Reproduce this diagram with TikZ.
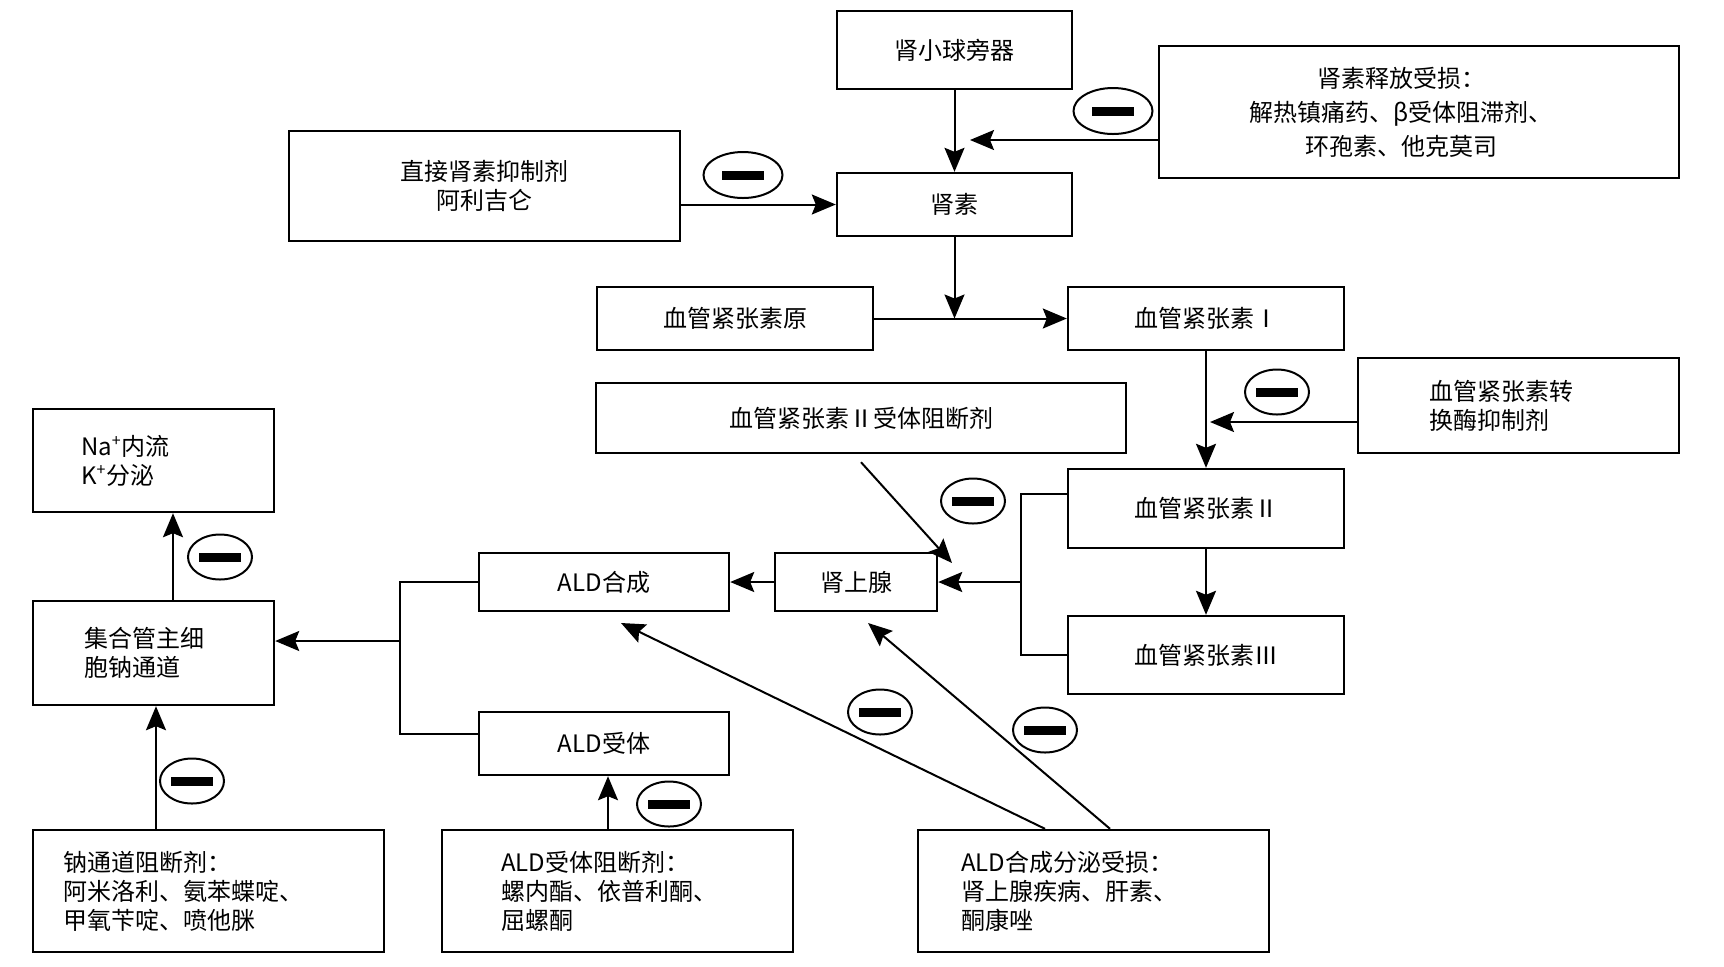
\documentclass[tikz,border=0pt]{standalone}
\usepackage{fontspec}
\setmainfont{Noto Sans CJK SC}
\usetikzlibrary{arrows.meta,shapes.geometric}
\tikzset{
  box/.style={draw, line width=1.2pt, rectangle, inner sep=0pt, align=center, font=\fontsize{12}{14.5}\selectfont},
  lbox/.style={box, align=left},
  inh/.style={ellipse, draw, line width=1pt, inner sep=0pt, minimum width=32pt, minimum height=22.5pt},
  inhw/.style={inh, minimum width=39.5pt, minimum height=23pt},
  conn/.style={line width=1pt},
  arr/.style={conn, -{Stealth[length=12pt,width=10pt,inset=2pt]}}
}
\newcommand{\minusbar}{\rule{21pt}{4.5pt}}
\newcommand{\rpad}{\hbox to 18pt{}}
\begin{document}
\begin{tikzpicture}[x=0.5pt,y=-0.5pt]
\useasboundingbox (0,0) rectangle (1724,966);

% boxes
\node[box, minimum width=117.5pt, minimum height=39pt] (jg) at (954.5,50) {肾小球旁器};
\node[box, minimum width=260pt, minimum height=66pt, font=\fontsize{12}{17}\selectfont] (rrel) at (1419,112) {肾素释放受损：\rpad\\解热镇痛药、β受体阻滞剂、\rpad\\环孢素、他克莫司\rpad};
\node[box, minimum width=195.5pt, minimum height=55pt] (dri) at (484.5,186) {直接肾素抑制剂\\阿利吉仑};
\node[box, minimum width=117.5pt, minimum height=31.5pt] (renin) at (954.5,204.5) {肾素};
\node[box, minimum width=138pt, minimum height=31.5pt] (agt) at (735,318.5) {血管紧张素原};
\node[box, minimum width=138pt, minimum height=31.5pt] (ang1) at (1206,318.5) {血管紧张素Ⅰ};
\node[lbox, text width=89.5pt, inner xsep=35.5pt, minimum height=47.5pt] (acei) at (1518.5,405.5) {血管紧张素转\\换酶抑制剂};
\node[box, minimum width=265pt, minimum height=35pt] (arb) at (861,418) {血管紧张素Ⅱ受体阻断剂};
\node[box, minimum width=138pt, minimum height=39.5pt] (ang2) at (1206,508.5) {血管紧张素Ⅱ};
\node[box, minimum width=138pt, minimum height=39pt] (ang3) at (1206,655) {血管紧张素Ⅲ};
\node[box, minimum width=81pt, minimum height=29pt] (adr) at (856,582) {肾上腺};
\node[box, minimum width=125pt, minimum height=29pt] (alds) at (604,582) {ALD合成};
\node[box, minimum width=125pt, minimum height=31.5pt] (aldr) at (604,743.5) {ALD受体};
\node[lbox, text width=72.5pt, inner xsep=24pt, minimum height=51.5pt] (na) at (153.5,460.5) {Na\textsuperscript{+}内流\\K\textsuperscript{+}分泌};
\node[lbox, text width=69.5pt, inner xsep=25.5pt, minimum height=52pt] (cd) at (153.5,653) {集合管主细\\胞钠通道};
\node[lbox, text width=145.5pt, inner xsep=15pt, minimum height=61pt] (nab) at (208.5,891) {钠通道阻断剂：\\阿米洛利、氨苯蝶啶、\\甲氧苄啶、喷他脒};
\node[lbox, text width=116.5pt, inner xsep=29.5pt, minimum height=61pt] (aldrb) at (617.5,891) {ALD受体阻断剂：\\螺内酯、依普利酮、\\屈螺酮};
\node[lbox, text width=132.5pt, inner xsep=21.5pt, minimum height=61pt] (alddef) at (1093.5,891) {ALD合成分泌受损：\\肾上腺疾病、肝素、\\酮康唑};

% inhibition marks
\node[inhw] (e1) at (1113,111) {\minusbar};
\node[inhw] (e2) at (743,175) {\minusbar};
\node[inh] (e3) at (1277,392) {\minusbar};
\node[inh] (e4) at (973,501) {\minusbar};
\node[inh] (e5) at (220,557) {\minusbar};
\node[inh] (e6) at (192,781) {\minusbar};
\node[inh] (e7) at (669,804) {\minusbar};
\node[inh] (e8) at (880,712) {\minusbar};
\node[inh] (e9) at (1045,730) {\minusbar};

% helper coordinates
\coordinate (t1) at (970,140);
\coordinate (t2) at (1210,422);
\coordinate (r1) at (1021,494);
\coordinate (r2) at (1021,655);
\coordinate (l1) at (400,582);
\coordinate (l2) at (400,734);
\coordinate (l3) at (400,641);
\coordinate (a1) at (621,623);
\coordinate (a2) at (868,623);
\coordinate (a3) at (952,563);

% connectors
\draw[arr] (jg) -- (renin);
\draw[arr] ([yshift=-14pt]rrel.west) -- (t1);
\draw[arr] (dri.east |- renin.west) -- (renin.west);
\draw[arr] (renin.south) -- (renin.south |- agt.east);
\draw[arr] (agt.east) -- (ang1.west);
\draw[arr] (ang1) -- (ang2);
\draw[arr] ([yshift=-8.25pt]acei.west) -- (t2);
\draw[arr] (ang2) -- (ang3);
\draw[conn] ([yshift=7.25pt]ang2.west) -- (r1) -- (r2) -- (ang3.west);
\draw[arr] (r1 |- adr.east) -- (adr.east);
\draw[arr] ([yshift=-4pt]arb.south) -- (a3);
\draw[arr] (adr.west) -- (alds.east);
\draw[conn] (alds.west) -- (l1) -- (l2) -- (l2 -| aldr.west);
\draw[arr] (l3) -- (l3 -| cd.east);
\draw[arr] ([xshift=9.75pt]cd.north) -- ([xshift=9.75pt]na.south);
\draw[arr] ([xshift=-26.25pt]nab.north) -- ([xshift=-26.25pt]nab.north |- cd.south);
\draw[arr] ([xshift=-4.75pt]aldrb.north) -- ([xshift=-4.75pt]aldrb.north |- aldr.south);
\draw[arr] ([xshift=-24.25pt]alddef.north) -- (a1);
\draw[arr] ([xshift=8.25pt]alddef.north) -- (a2);
\end{tikzpicture}
\end{document}
